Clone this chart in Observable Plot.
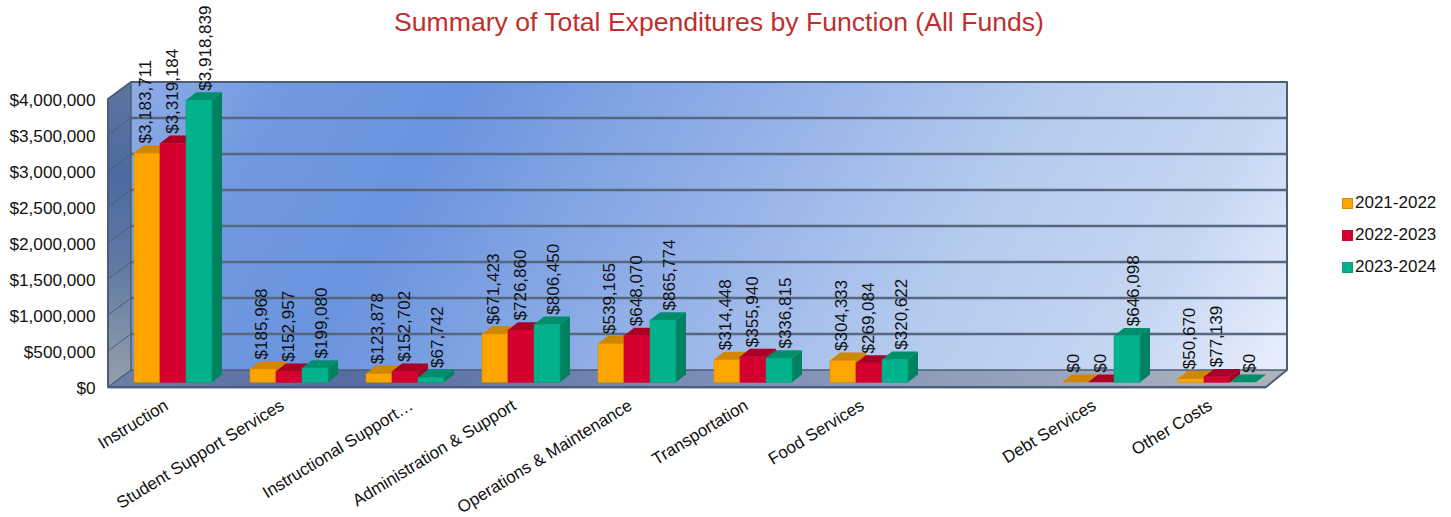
<!DOCTYPE html>
<html>
<head>
<meta charset="utf-8">
<script src="https://cdn.jsdelivr.net/npm/d3@7"></script>
<script src="https://cdn.jsdelivr.net/npm/@observablehq/plot@0.6"></script>
<style>
  html, body { margin: 0; padding: 0; background: #fff; }
  #wrap { position: relative; width: 1451px; height: 517px; overflow: hidden; font-family: "Liberation Sans", Arial, sans-serif; }
  #wrap svg { position: absolute; left: 0; top: 0; }
  h1 { position: absolute; z-index: 2; left: 0; width: 1438px; top: 6px; margin: 0; text-align: center; font-size: 26.6px; line-height: 32px; font-weight: normal; color: #bf2f2d; }
  #legend { position: absolute; z-index: 2; left: 1342px; top: 187px; }
  #legend div { height: 32px; line-height: 32px; font-size: 17px; color: #111; white-space: nowrap; }
  #legend i { display: inline-block; width: 9px; height: 9px; margin-right: 2px; border: 1px solid; vertical-align: -0.5px; }
</style>
</head>
<body>
<div id="wrap">
  <h1>Summary of Total Expenditures by Function (All Funds)</h1>
  <div id="legend"></div>
</div>
<script>
const categories = ["Instruction", "Student Support Services", "Instructional Support…", "Administration & Support", "Operations & Maintenance", "Transportation", "Food Services", "", "Debt Services", "Other Costs"];
const truncatedLabel = "Instructional Support…";
const seriesNames = ["2021-2022", "2022-2023", "2023-2024"];
const values2122 = [3183711, 185968, 123878, 671423, 539165, 314448, 304333, null, 0, 50670];
const values2223 = [3319184, 152957, 152702, 726860, 648070, 355940, 269084, null, 0, 77139];
const values2324 = [3918839, 199080, 67742, 806450, 865774, 336815, 320622, null, 646098, 0];
const seriesValues = [values2122, values2223, values2324];
const frontColors = ["#ffa500", "#d5002f", "#00b38c"];
const topColors = ["#cf8600", "#ab0026", "#008f6c"];
const sideColors = ["#c98200", "#a30024", "#00815f"];
const borderColors = ["#d98c00", "#c20a30", "#12997c"];
const yTicks = [0, 500000, 1000000, 1500000, 2000000, 2500000, 3000000, 3500000, 4000000];

const rows = categories.flatMap((category, i) =>
  seriesNames.map((series, j) => ({category, series, j, value: seriesValues[j][i]}))
).filter(d => d.value != null);

const barW = 26, depthX = 10, depthY = 7.8;
const labelShift = [-2, -1, 6.5];

function poly(g, pts, attrs) {
  const p = g.append("path").attr("d", "M" + pts.map(q => q.join(",")).join("L") + "Z");
  for (const k in attrs) p.attr(k, attrs[k]);
  return p;
}

function room(index, scales, values, dim, context) {
  const {y} = scales;
  const fl = dim.marginLeft - 7, fr = dim.width - dim.marginRight - 9;
  const bl = fl + 23, br = fr + 21;
  const front = v => y(v) + 4.7, back = v => y(v) - 12.3;
  const top = 4000000, g = d3.create("svg:g");
  const defs = g.append("defs");
  const grad = (id, attrs, stops) => {
    const lg = defs.append("linearGradient").attr("id", id);
    for (const k in attrs) lg.attr(k, attrs[k]);
    stops.forEach(([o, c]) => lg.append("stop").attr("offset", o).attr("stop-color", c));
  };
  grad("wallG", {gradientUnits: "userSpaceOnUse", x1: bl, y1: back(top), x2: bl + 1206, y2: back(top) + 688},
    [[0, "#8fabe6"], [0.1, "#7099e0"], [0.21, "#6a94de"], [0.36, "#8aaae6"], [0.586, "#b6cbee"], [0.72, "#c6d6f3"], [0.826, "#e9f0fc"], [1, "#f5f8fe"]]);
  grad("sideG", {x1: 0, y1: 0, x2: 0, y2: 1},
    [[0, "#5d769f"], [0.3, "#4b6a9f"], [0.6, "#5f7aa3"], [1, "#97a0aa"]]);
  grad("floorG", {x1: 0, y1: 0, x2: 1, y2: 0},
    [[0, "#6a7fa8"], [0.2, "#566c9f"], [0.5, "#7b8db6"], [0.8, "#98a4bd"], [1, "#aeb3bc"]]);
  const edge = "#4c5d78";
  poly(g, [[bl, back(top)], [br, back(top)], [br, back(0)], [bl, back(0)]], {fill: "url(#wallG)"});
  poly(g, [[fl, front(top)], [bl, back(top)], [bl, back(0)], [fl, front(0)]], {fill: "url(#sideG)"});
  for (const t of yTicks.slice(1, -1)) {
    g.append("line").attr("x1", bl).attr("x2", br).attr("y1", back(t)).attr("y2", back(t)).attr("stroke", "#56677f").attr("stroke-width", 2.4);
    g.append("line").attr("x1", fl).attr("x2", bl).attr("y1", front(t)).attr("y2", back(t)).attr("stroke", "#4c5d78").attr("stroke-width", 1);
  }
  poly(g, [[bl, back(0)], [br, back(0)], [fr, front(0)], [fl, front(0)]], {fill: "url(#floorG)"});
  g.append("path").attr("fill", "none").attr("stroke", edge).attr("stroke-width", 2).attr("stroke-linejoin", "round")
    .attr("d", `M${fl},${front(0)}L${fl},${front(top)}L${bl},${back(top)}L${br},${back(top)}L${br},${back(0)}L${fr},${front(0)}Z`);
  g.append("line").attr("x1", bl).attr("x2", br).attr("y1", back(0)).attr("y2", back(0)).attr("stroke", edge).attr("stroke-width", 1.5);
  g.append("line").attr("x1", bl).attr("x2", bl).attr("y1", back(top)).attr("y2", back(0)).attr("stroke", edge).attr("stroke-width", 1.5);
  g.append("line").attr("x1", fl).attr("x2", bl).attr("y1", front(0)).attr("y2", back(0)).attr("stroke", edge).attr("stroke-width", 1.5);
  g.append("line").attr("x1", fl).attr("x2", fr).attr("y1", front(0) + 1.5).attr("y2", front(0) + 1.5).attr("stroke", "#aeb6c6").attr("stroke-width", 1);
  return g.node();
}

function depthFaces(index, scales, values) {
  const g = d3.create("svg:g");
  for (const i of index) {
    const j = rows[i].j;
    const x0 = values.x[i] + j * barW, x1 = x0 + barW;
    const yb = values.y1[i], yt = values.y2[i];
    poly(g, [[x1, yb], [x1 + depthX, yb - depthY], [x1 + depthX, yt - depthY], [x1, yt]], {fill: sideColors[j]});
    poly(g, [[x0, yt], [x1, yt], [x1 + depthX, yt - depthY], [x0 + depthX, yt - depthY]], {fill: topColors[j]});
  }
  return g.node();
}

const font = 17;
const xAxisOptions = {tickRotate: -31.5, tickSize: 0, tickPadding: 21, fontSize: font, label: null, fill: "#111"};
const chart = Plot.plot({
  width: 1451, height: 517,
  marginLeft: 115, marginRight: 176, marginTop: 94.3, marginBottom: 134.7,
  style: {fontFamily: '"Liberation Sans", Arial, sans-serif', background: "transparent", overflow: "visible"},
  x: {type: "band", domain: categories, paddingInner: 0.3276, paddingOuter: 0.1638, round: false, label: null},
  y: {domain: [0, 4000000], label: null},
  color: {domain: seriesNames, range: frontColors},
  marks: [
    room,
    Plot.barY(rows, {x: "category", y1: 0, y2: "value", render: depthFaces}),
    ...seriesNames.map((s, j) => Plot.barY(rows.filter(d => d.j === j), {
      x: "category", y1: 0, y2: "value", fill: "series", stroke: borderColors[j], strokeWidth: 0.6,
      dx: j * barW, insetRight: 2 * barW
    })),
    ...seriesNames.map((s, j) => Plot.text(rows.filter(d => d.j === j), {
      x: "category", y: "value", text: d => d3.format("$,")(d.value), rotate: -90, textAnchor: "start",
      dx: (j - 1) * barW + labelShift[j], dy: -10, fontSize: font, fill: "#111"
    })),
    Plot.axisY({ticks: yTicks, tickFormat: d3.format("$,"), tickSize: 0, tickPadding: 20, dy: 6, fontSize: 17.2, label: null, fill: "#111"}),
    Plot.axisX({...xAxisOptions, ticks: categories.filter(c => c !== truncatedLabel), dx: -7}),
    Plot.axisX({...xAxisOptions, ticks: [truncatedLabel], dx: 6})
  ]
});
document.getElementById("wrap").appendChild(chart);
document.getElementById("legend").innerHTML = seriesNames.map((s, j) =>
  `<div><i style="background:${frontColors[j]};border-color:${borderColors[j]}"></i>${s}</div>`).join("");
</script>
</body>
</html>
